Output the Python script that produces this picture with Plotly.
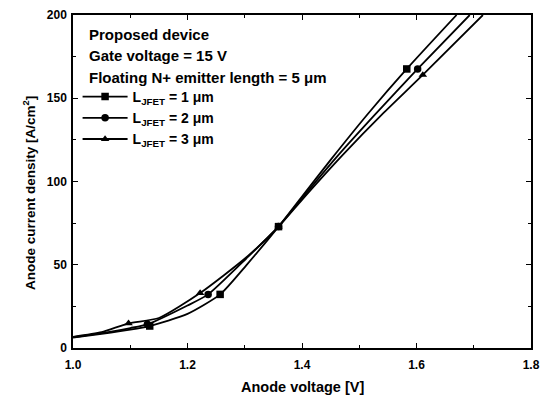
import plotly.graph_objects as go

# Anode voltage [V] / anode current density [A/cm^2] for each JFET length
x_l1 = [1.00, 1.05, 1.10, 1.134, 1.20, 1.257, 1.303, 1.359, 1.40, 1.45, 1.516, 1.583, 1.670]
y_l1 = [6.3, 8.5, 11.0, 13.2, 20.5, 32.2, 49.8, 72.9, 91.0, 113.0, 141.0, 167.6, 200.0]

x_l2 = [1.00, 1.05, 1.10, 1.13, 1.20, 1.236, 1.303, 1.359, 1.40, 1.46, 1.527, 1.602, 1.693]
y_l2 = [6.5, 9.0, 12.0, 14.2, 25.5, 32.2, 53.9, 72.9, 90.0, 114.5, 140.0, 167.6, 200.0]

x_l3 = [1.00, 1.05, 1.097, 1.15, 1.222, 1.303, 1.359, 1.40, 1.47, 1.542, 1.611, 1.716]
y_l3 = [6.7, 9.5, 14.8, 18.0, 33.0, 54.5, 72.9, 89.0, 115.5, 141.0, 164.0, 200.0]

# indices of the points that carry a symbol
marks_l1 = [3, 5, 7, 11]
marks_l2 = [3, 5, 7, 11]
marks_l3 = [2, 4, 6, 10]

series_names = ["L<sub>JFET</sub> = 1 μm", "L<sub>JFET</sub> = 2 μm", "L<sub>JFET</sub> = 3 μm"]
header_lines = ["Proposed device", "Gate voltage = 15 V", "Floating N+ emitter length = 5 μm"]

x_ticks = [1.0, 1.2, 1.4, 1.6, 1.8]
y_ticks = [0, 50, 100, 150, 200]

FONT = "Liberation Sans, Arial, sans-serif"
INK = "black"

PLOT_W, PLOT_H = 458, 333

fig = go.Figure()
series = [
    (x_l1, y_l1, marks_l1, "square"),
    (x_l2, y_l2, marks_l2, "circle"),
    (x_l3, y_l3, marks_l3, "triangle-up"),
]
for (xs, ys, marks, sym), name in zip(series, series_names):
    fig.add_trace(go.Scatter(x=xs, y=ys, mode="lines",
                             line=dict(color=INK, width=1.8, shape="spline", smoothing=0.6),
                             showlegend=False, hoverinfo="skip"))
    fig.add_trace(go.Scatter(x=[xs[i] for i in marks], y=[ys[i] for i in marks],
                             mode="markers",
                             marker=dict(symbol=sym, size=7.5, color=INK),
                             showlegend=False))
    # legend entry: line with symbol
    fig.add_trace(go.Scatter(x=[None], y=[None], mode="lines+markers", name=name,
                             line=dict(color=INK, width=1.8),
                             marker=dict(symbol=sym, size=7.5, color=INK)))

for i, txt in enumerate(header_lines):
    fig.add_annotation(text=txt, xref="paper", yref="paper",
                       x=0.031, y=1 - (19 + 21.5 * i) / PLOT_H, xanchor="left", yanchor="middle",
                       showarrow=False,
                       font=dict(family=FONT, size=15, color=INK, weight="bold"))

# axis titles
fig.add_annotation(text="Anode current density [A/cm<sup>2</sup>]",
                   xref="paper", yref="paper", x=-44 / PLOT_W, y=1 - 178 / PLOT_H,
                   xanchor="center", yanchor="middle", textangle=-90, showarrow=False,
                   font=dict(family=FONT, size=13.5, color=INK, weight="bold"))
fig.add_annotation(text="Anode voltage [V]",
                   xref="paper", yref="paper", x=0.5, y=-39 / PLOT_H,
                   xanchor="center", yanchor="middle", showarrow=False,
                   font=dict(family=FONT, size=14.5, color=INK, weight="bold"))

axis_common = dict(
    showline=True, linecolor=INK, linewidth=1.5, mirror="ticks",
    ticks="inside", ticklen=5, tickwidth=1.2, tickcolor=INK,
    showgrid=False, zeroline=False, automargin=False,
    tickfont=dict(family=FONT, size=12, color=INK, weight="bold"),
)
fig.update_xaxes(range=[1.0, 1.8], tickvals=x_ticks, ticktext=[f"{v:.1f}" for v in x_ticks],
                 ticklabelstandoff=5,
                 minor=dict(dtick=0.1, ticks="inside", ticklen=3, tickcolor=INK, showgrid=False),
                 **axis_common)
fig.update_yaxes(range=[0, 200], tickvals=y_ticks, ticklabelstandoff=2,
                 minor=dict(dtick=25, ticks="inside", ticklen=3, tickcolor=INK, showgrid=False),
                 **axis_common)

fig.update_layout(
    width=549, height=398,
    margin=dict(l=73, r=18, t=15, b=50),
    paper_bgcolor="white", plot_bgcolor="white",
    font=dict(family=FONT, color=INK),
    legend=dict(x=0.01, y=1 - 66 / PLOT_H, xanchor="left", yanchor="top",
                bgcolor="rgba(0,0,0,0)", itemwidth=45,
                font=dict(family=FONT, size=14, color=INK, weight="bold"),
                tracegroupgap=0),
)

fig.write_html("out.html")
